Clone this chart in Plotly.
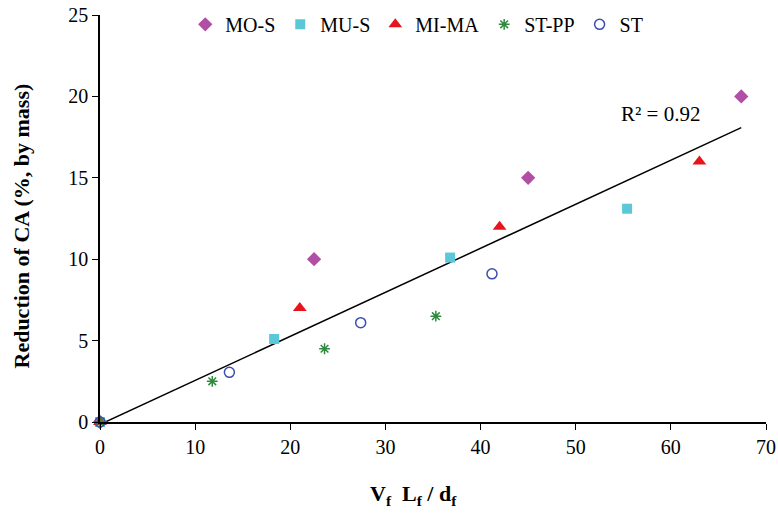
import plotly.graph_objects as go

# Data
mos_x = [0, 22.5, 45, 67.4]
mos_y = [0, 10, 15, 20]
mus_x = [0, 18.3, 36.8, 55.4]
mus_y = [0, 5.1, 10.1, 13.1]
mima_x = [0, 21, 42, 63]
mima_y = [0, 7, 12, 16]
stpp_x = [0, 11.8, 23.6, 35.3]
stpp_y = [0, 2.5, 4.5, 6.5]
st_x = [0, 13.6, 27.4, 41.2]
st_y = [0, 3.05, 6.1, 9.1]
trend_slope = 0.2705
trend_intercept = -0.15
trend_x = [0, 67.4]
trend_y = [trend_slope * v + trend_intercept for v in trend_x]

FONT = "Liberation Serif, Times New Roman, serif"

fig = go.Figure()
fig.add_trace(go.Scatter(x=trend_x, y=trend_y, mode="lines",
                         line=dict(color="black", width=1.5), showlegend=False))
fig.add_trace(go.Scatter(x=mos_x, y=mos_y, mode="markers", name="MO-S", cliponaxis=False,
                         marker=dict(symbol="diamond", size=11, color="#B04FA5")))
fig.add_trace(go.Scatter(x=mus_x, y=mus_y, mode="markers", name="MU-S", cliponaxis=False,
                         marker=dict(symbol="square", size=10, color="#5BC8D8")))
fig.add_trace(go.Scatter(x=mima_x, y=mima_y, mode="markers", name="MI-MA", cliponaxis=False,
                         marker=dict(symbol="triangle-up", size=12, color="#E8141B")))
fig.add_trace(go.Scatter(x=stpp_x, y=stpp_y, mode="markers", name="ST-PP", cliponaxis=False,
                         marker=dict(symbol="asterisk-open", size=9, color="#2E8B3E",
                                     line=dict(width=1.5, color="#2E8B3E"))))
fig.add_trace(go.Scatter(x=st_x, y=st_y, mode="markers", name="ST", cliponaxis=False,
                         marker=dict(symbol="circle-open", size=10, color="#3A4FB0",
                                     line=dict(width=1.5, color="#3A4FB0"))))

fig.add_annotation(x=58.9, y=18.9, text="R² = 0.92", showarrow=False,
                   font=dict(family=FONT, size=21, color="black"), xanchor="center")

# axis titles
fig.add_annotation(xref="paper", yref="paper", x=0.47, y=0, yshift=-73,
                   text="<b>V<sub>f</sub>  L<sub>f</sub> / d<sub>f</sub></b>",
                   showarrow=False, xanchor="center", yanchor="middle",
                   font=dict(family=FONT, size=22, color="black"))
fig.add_annotation(xref="paper", yref="paper", x=0, xshift=-79, y=0.5, yshift=-8,
                   text="<b>Reduction of CA (%, by mass)</b>", textangle=-90,
                   showarrow=False, xanchor="center", yanchor="middle",
                   font=dict(family=FONT, size=22, color="black"))

fig.update_layout(
    width=778, height=521,
    margin=dict(l=100, r=12, t=15, b=99, autoexpand=False),
    paper_bgcolor="white", plot_bgcolor="white",
    font=dict(family=FONT, size=20, color="black"),
    legend=dict(orientation="h", x=0.128, y=1.025, xanchor="left", yanchor="top",
                font=dict(family=FONT, size=20), itemwidth=30,
                bgcolor="rgba(0,0,0,0)", tracegroupgap=0),
    xaxis=dict(range=[0, 70], dtick=10, showgrid=False, zeroline=False,
               showline=True, linecolor="black", linewidth=1.5, automargin=False,
               ticks="outside", ticklen=6, tickcolor="black",
               tickfont=dict(family=FONT, size=20)),
    yaxis=dict(range=[0, 25], dtick=5, showgrid=False, zeroline=False,
               showline=True, linecolor="black", linewidth=1.5, automargin=False,
               ticks="outside", ticklen=6, tickcolor="black",
               tickfont=dict(family=FONT, size=20)),
)

fig.write_html("out.html")
